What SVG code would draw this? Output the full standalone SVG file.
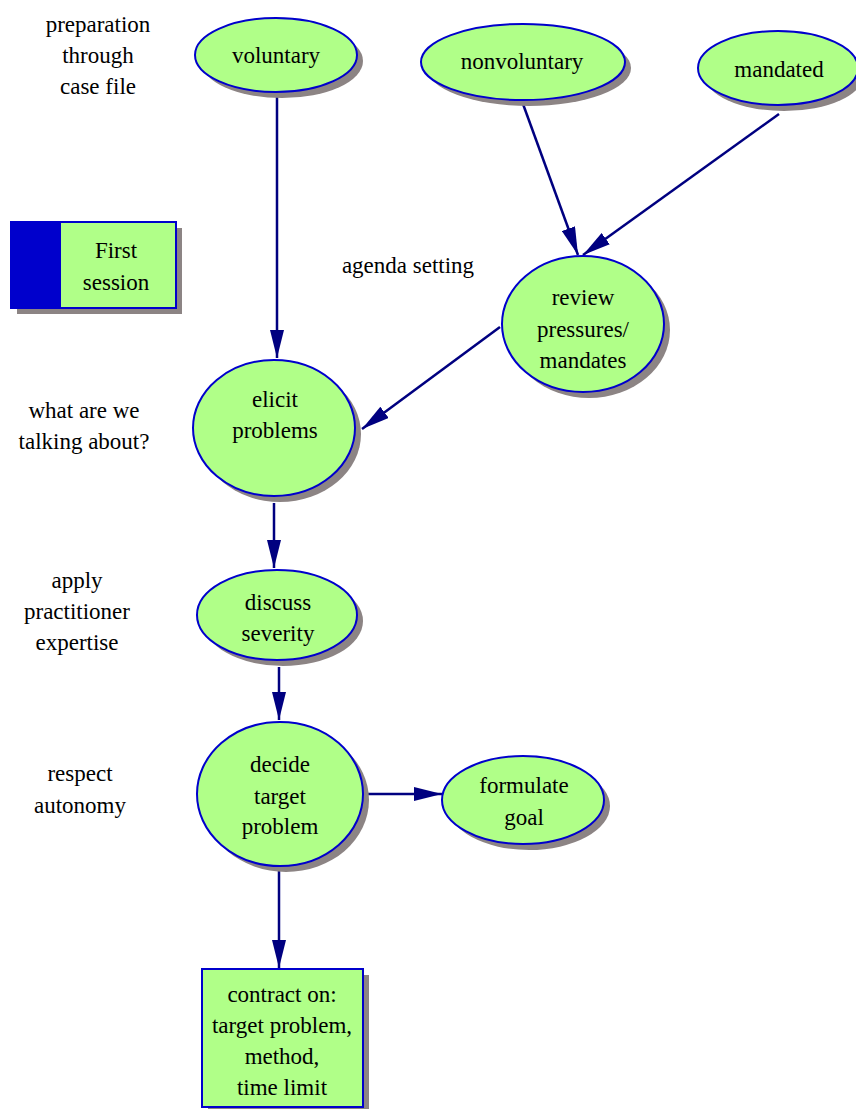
<svg xmlns="http://www.w3.org/2000/svg" width="856" height="1109" viewBox="0 0 856 1109">
  <defs>
    <marker id="arrow" viewBox="0 0 28 14" refX="28" refY="7" markerWidth="28" markerHeight="14" markerUnits="userSpaceOnUse" orient="auto">
      <path d="M0,0 L28,7 L0,14 Z" fill="#000080"/>
    </marker>
  </defs>
  <style>
    .shadow { fill: #8c8484; }
    .node { fill: #b0ff88; stroke: #0000cc; stroke-width: 2; }
    .edge { stroke: #000080; stroke-width: 2.5; fill: none; marker-end: url(#arrow); }
  </style>
  <rect width="856" height="1109" fill="#fff"/>

  <g font-family="'Liberation Serif', 'DejaVu Serif', serif" font-size="23" text-anchor="middle" fill="#000">
  <!-- side labels -->
  <g id="labels">
    <text x="98" y="32">preparation</text>
    <text x="98" y="63">through</text>
    <text x="98" y="94">case file</text>
    <text x="408" y="273">agenda setting</text>
    <text x="84" y="418">what are we</text>
    <text x="84" y="449">talking about?</text>
    <text x="77" y="588">apply</text>
    <text x="77" y="619">practitioner</text>
    <text x="77" y="650">expertise</text>
    <text x="80" y="781">respect</text>
    <text x="80" y="813">autonomy</text>
  </g>

  <!-- legend box -->
  <g id="first-session">
    <rect class="shadow" x="17" y="228" width="165" height="86"/>
    <rect class="node" x="11" y="222" width="165" height="86"/>
    <rect x="11" y="222" width="50" height="86" fill="#0000cc"/>
    <text x="116" y="258">First</text>
    <text x="116" y="290">session</text>
  </g>

  <!-- connectors -->
  <g id="edges">
    <line class="edge" x1="277" y1="93" x2="277" y2="358"/>
    <line class="edge" x1="523" y1="104" x2="578" y2="255"/>
    <line class="edge" x1="779" y1="114" x2="583" y2="255"/>
    <line class="edge" x1="500" y1="327" x2="362" y2="429"/>
    <line class="edge" x1="274" y1="503" x2="274" y2="568"/>
    <line class="edge" x1="279" y1="667" x2="279" y2="720"/>
    <line class="edge" x1="366" y1="794" x2="442" y2="794"/>
    <line class="edge" x1="279" y1="868" x2="279" y2="968"/>
  </g>

  <g id="voluntary">
    <ellipse class="shadow" cx="282" cy="61" rx="81" ry="37"/>
    <ellipse class="node" cx="276" cy="55" rx="81" ry="37"/>
    <text x="276" y="63">voluntary</text>
  </g>
  <g id="nonvoluntary">
    <ellipse class="shadow" cx="529" cy="68" rx="102" ry="38"/>
    <ellipse class="node" cx="523" cy="62" rx="102" ry="38"/>
    <text x="522" y="69">nonvoluntary</text>
  </g>
  <g id="mandated">
    <ellipse class="shadow" cx="784" cy="74" rx="80" ry="37"/>
    <ellipse class="node" cx="778" cy="68" rx="80" ry="37"/>
    <text x="779" y="77">mandated</text>
  </g>
  <g id="review">
    <ellipse class="shadow" cx="589" cy="330" rx="81" ry="68"/>
    <ellipse class="node" cx="583" cy="324" rx="81" ry="68"/>
    <text x="583" y="305">review</text>
    <text x="583" y="337">pressures/</text>
    <text x="583" y="368">mandates</text>
  </g>
  <g id="elicit">
    <ellipse class="shadow" cx="280" cy="434" rx="81" ry="68"/>
    <ellipse class="node" cx="274" cy="428" rx="81" ry="68"/>
    <text x="275" y="407">elicit</text>
    <text x="275" y="438">problems</text>
  </g>
  <g id="discuss">
    <ellipse class="shadow" cx="283" cy="621" rx="80" ry="45"/>
    <ellipse class="node" cx="277" cy="615" rx="80" ry="45"/>
    <text x="278" y="610">discuss</text>
    <text x="278" y="641">severity</text>
  </g>
  <g id="decide">
    <ellipse class="shadow" cx="286" cy="800" rx="83" ry="72"/>
    <ellipse class="node" cx="280" cy="794" rx="83" ry="72"/>
    <text x="280" y="772">decide</text>
    <text x="280" y="804">target</text>
    <text x="280" y="834">problem</text>
  </g>
  <g id="formulate">
    <ellipse class="shadow" cx="529" cy="806" rx="81" ry="44"/>
    <ellipse class="node" cx="523" cy="800" rx="81" ry="44"/>
    <text x="524" y="793">formulate</text>
    <text x="524" y="825">goal</text>
  </g>
  <g id="contract">
    <rect class="shadow" x="208" y="975" width="161" height="138"/>
    <rect class="node" x="202" y="969" width="161" height="138"/>
    <text x="282" y="1002">contract on:</text>
    <text x="282" y="1033">target problem,</text>
    <text x="282" y="1064">method,</text>
    <text x="282" y="1095">time limit</text>
  </g>
  </g>
</svg>
